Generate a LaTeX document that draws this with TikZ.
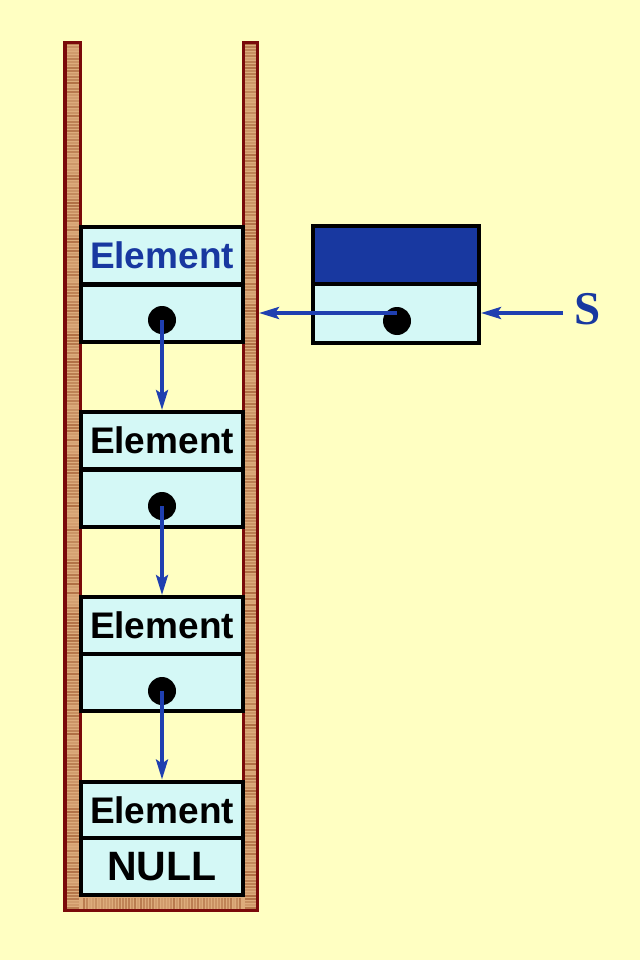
\documentclass[tikz,border=0pt]{standalone}
\usepackage{fontspec}
\setmainfont{Liberation Sans}
\newfontfamily\serifS{Liberation Serif}
\usetikzlibrary{arrows.meta}
\definecolor{bgyellow}{HTML}{FFFFC2}
\definecolor{cellcyan}{HTML}{D4F8F6}
\definecolor{wallred}{HTML}{7A0A0A}
\definecolor{walltan}{HTML}{DDAC7C}
\definecolor{wallstripe}{HTML}{A8643A}
\definecolor{ptrblue}{HTML}{1F3FB0}
\definecolor{topblue}{HTML}{1838A0}
\tikzset{
  cell/.style={draw=black, line width=4pt, fill=cellcyan, minimum width=162pt, minimum height=57pt, inner sep=0pt, font=\fontsize{37}{40}\bfseries\selectfont},
  dotnode/.style={circle, fill=black, minimum size=28pt, inner sep=0pt},
  ptr/.style={draw=ptrblue, line width=3.5pt, -{Stealth[length=20pt,width=12pt,inset=4pt]}},
}
\begin{document}
\begin{tikzpicture}[x=1pt,y=-1pt]
\fill[bgyellow] (0,0) rectangle (640,960);
\useasboundingbox (0,0) rectangle (640,960);
% walls (U shape)
\def\ushape{(65,42.5) -- (80.5,42.5) -- (80.5,895.5) -- (243.5,895.5) -- (243.5,42.5) -- (257.5,42.5) -- (257.5,910.5) -- (65,910.5) -- cycle}
\fill[walltan] \ushape;
\pgfmathsetseed{11}
\foreach \yy in {44,47,...,908}{
  \pgfmathsetmacro{\op}{0.1+0.75*rnd}
  \draw[wallstripe, line width=1.5pt, opacity=\op] (66,\yy) -- (79,\yy);
  \pgfmathsetmacro{\opb}{0.1+0.75*rnd}
  \draw[wallstripe, line width=1.5pt, opacity=\opb] (245,\yy) -- (256,\yy);
}
\foreach \xx in {84,87,...,241}{
  \pgfmathsetmacro{\op}{0.1+0.6*rnd}
  \draw[wallstripe, line width=1.5pt, opacity=\op] (\xx,898) -- (\xx,909);
}
\draw[wallred, line width=3.5pt, line join=miter] \ushape;
% stack cells
\node[cell, text=topblue] (e1) at (162,255.5) {Element};
\node[cell] (p1) at (162,313) {};
\node[cell] (e2) at (162,440.5) {Element};
\node[cell] (p2) at (162,498) {};
\node[cell] (e3) at (162,625.5) {Element};
\node[cell] (p3) at (162,682.5) {};
\node[cell] (e4) at (162,810) {Element};
\node[cell, font=\fontsize{41}{44}\bfseries\selectfont] (nl) at (162,866.5) {NULL};
% dots
\node[dotnode] (d1) at (162,320) {};
\node[dotnode] (d2) at (162,506) {};
\node[dotnode] (d3) at (162,691) {};
% pointer box S
\node[cell, fill=topblue, minimum width=166pt, minimum height=58pt] (st) at (396,255) {};
\node[cell, minimum width=166pt, minimum height=59pt] (sp) at (396,313.5) {};
\node[dotnode] (ds) at (397,321) {};
\node[text=topblue, font=\fontsize{47}{48}\serifS\bfseries\selectfont, inner sep=0pt] (S) at (588,309) {S};
\coordinate (wallhit) at (259,313);
\coordinate (sfrom) at (563,313);
% arrows
\draw[ptr] (d1.center) -- (e2.north);
\draw[ptr] (d2.center) -- (e3.north);
\draw[ptr] (d3.center) -- (e4.north);
\draw[ptr] (ds.center |- wallhit) -- (wallhit);
\draw[ptr] (sfrom) -- (sp.east |- sfrom);
\end{tikzpicture}
\end{document}
